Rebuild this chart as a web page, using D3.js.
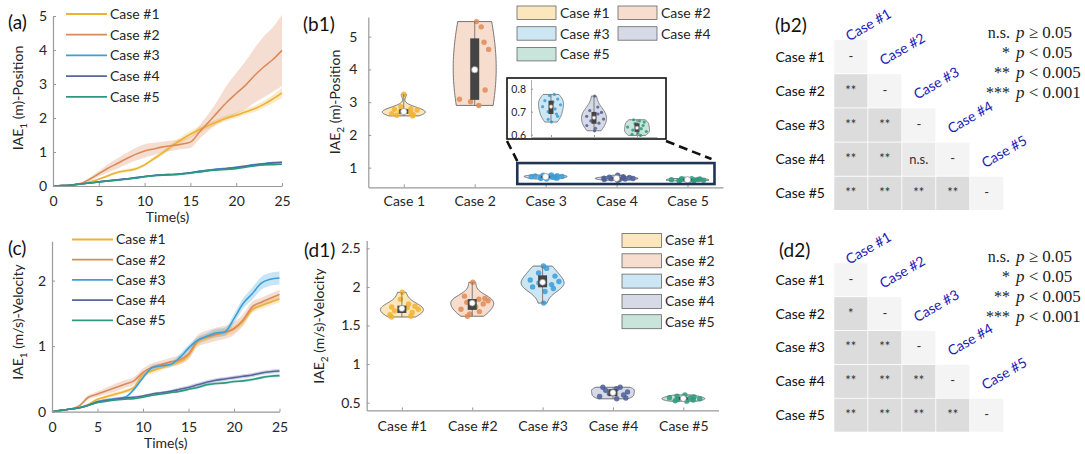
<!DOCTYPE html>
<html><head><meta charset="utf-8">
<script src="https://cdn.jsdelivr.net/npm/d3@7"></script>
<style>body{margin:0;background:#fff}svg{display:block}text{font-family:Lato,'Open Sans',sans-serif}</style>
</head><body>
<svg id="c" width="1085" height="454"></svg>
<script>
// ---------------- data ----------------
const cases = ["Case #1","Case #2","Case #3","Case #4","Case #5"];
const casesShort = ["Case 1","Case 2","Case 3","Case 4","Case 5"];
const timeS = [0,1,2,3,4,5,6,7,8,9,10,11,12,13,14,15,16,17,18,19,20,21,22,23,24,25];
const timeTicks = [0,5,10,15,20,25];

// (a) IAE1 position, mean and sd per case
const posMean1 = [0,0.01,0.02,0.05,0.12,0.2,0.3,0.4,0.45,0.5,0.62,0.8,0.98,1.18,1.36,1.52,1.66,1.78,1.9,2.0,2.08,2.18,2.27,2.4,2.56,2.74];
const posMean2 = [0,0.01,0.03,0.07,0.2,0.36,0.52,0.66,0.8,0.93,1.03,1.09,1.15,1.19,1.23,1.29,1.59,1.88,2.18,2.47,2.72,2.96,3.25,3.5,3.72,3.99];
const posMean3 = [0,0.01,0.03,0.06,0.09,0.12,0.15,0.18,0.21,0.25,0.28,0.31,0.33,0.34,0.36,0.39,0.43,0.47,0.5,0.52,0.55,0.59,0.63,0.66,0.69,0.7];
const posMean4 = [0,0.01,0.03,0.06,0.09,0.12,0.15,0.18,0.21,0.24,0.28,0.31,0.33,0.34,0.36,0.39,0.43,0.46,0.49,0.51,0.54,0.58,0.62,0.65,0.68,0.69];
const posMean5 = [0,0.01,0.03,0.06,0.09,0.12,0.15,0.17,0.2,0.23,0.27,0.3,0.32,0.33,0.35,0.38,0.41,0.45,0.47,0.49,0.51,0.55,0.59,0.62,0.63,0.64];
const posSd1 = [0,0.005,0.01,0.01,0.02,0.03,0.04,0.04,0.05,0.05,0.05,0.06,0.07,0.08,0.09,0.1,0.09,0.08,0.08,0.08,0.08,0.08,0.09,0.1,0.12,0.15];
const posSd2 = [0,0.005,0.01,0.02,0.05,0.08,0.12,0.15,0.17,0.19,0.2,0.18,0.16,0.15,0.15,0.17,0.2,0.25,0.35,0.5,0.6,0.7,0.8,0.9,0.95,1.05];
const posSd3 = [0,0.005,0.01,0.01,0.01,0.01,0.01,0.01,0.01,0.01,0.01,0.01,0.01,0.01,0.01,0.01,0.02,0.02,0.02,0.02,0.02,0.02,0.02,0.02,0.02,0.02];
const posSd4 = [0,0.005,0.01,0.01,0.01,0.01,0.01,0.01,0.01,0.01,0.01,0.01,0.01,0.01,0.01,0.01,0.02,0.02,0.02,0.02,0.02,0.02,0.02,0.02,0.02,0.02];
const posSd5 = [0,0.005,0.01,0.01,0.01,0.01,0.01,0.01,0.01,0.01,0.01,0.01,0.01,0.01,0.01,0.01,0.01,0.01,0.01,0.01,0.01,0.01,0.01,0.01,0.01,0.01];

// (c) IAE1 velocity, mean and sd per case
const velMean1 = [0,0.02,0.04,0.06,0.11,0.19,0.23,0.27,0.31,0.37,0.57,0.62,0.67,0.72,0.76,0.86,1.06,1.13,1.18,1.21,1.26,1.38,1.56,1.62,1.67,1.72];
const velMean2 = [0,0.02,0.04,0.09,0.22,0.27,0.32,0.37,0.42,0.47,0.6,0.68,0.72,0.76,0.79,0.88,1.08,1.14,1.18,1.21,1.27,1.4,1.6,1.67,1.73,1.79];
const velMean3 = [0,0.02,0.04,0.06,0.1,0.15,0.18,0.2,0.22,0.34,0.52,0.67,0.7,0.72,0.82,0.97,1.09,1.15,1.2,1.22,1.42,1.65,1.8,1.96,2.02,2.04];
const velMean4 = [0,0.02,0.04,0.06,0.1,0.15,0.17,0.19,0.21,0.22,0.24,0.27,0.29,0.31,0.34,0.37,0.41,0.45,0.48,0.5,0.52,0.54,0.56,0.59,0.61,0.62];
const velMean5 = [0,0.02,0.04,0.06,0.1,0.14,0.16,0.18,0.19,0.2,0.22,0.25,0.27,0.29,0.31,0.34,0.37,0.41,0.43,0.44,0.46,0.47,0.49,0.52,0.54,0.55];
const velSd1 = [0,0.005,0.01,0.01,0.02,0.02,0.03,0.03,0.03,0.03,0.04,0.04,0.04,0.04,0.04,0.05,0.05,0.05,0.05,0.05,0.05,0.05,0.05,0.05,0.05,0.05];
const velSd2 = [0,0.005,0.01,0.02,0.03,0.04,0.05,0.06,0.06,0.06,0.06,0.06,0.06,0.06,0.07,0.08,0.09,0.1,0.1,0.1,0.1,0.09,0.08,0.07,0.07,0.07];
const velSd3 = [0,0.005,0.01,0.01,0.02,0.02,0.02,0.02,0.02,0.03,0.03,0.04,0.04,0.04,0.05,0.05,0.05,0.05,0.06,0.06,0.07,0.08,0.09,0.1,0.1,0.1];
const velSd4 = [0,0.005,0.01,0.01,0.01,0.02,0.02,0.02,0.02,0.02,0.02,0.02,0.02,0.02,0.03,0.03,0.03,0.03,0.03,0.03,0.03,0.03,0.03,0.03,0.03,0.03];
const velSd5 = [0,0.005,0.01,0.01,0.01,0.01,0.01,0.01,0.01,0.01,0.01,0.01,0.01,0.01,0.01,0.01,0.02,0.02,0.02,0.02,0.02,0.02,0.02,0.02,0.02,0.02];

// (b1) IAE2 position samples per case, with horizontal jitter fractions
const b1Vals1 = [3.24,2.86,2.80,2.78,2.76,2.72,2.70,2.68,2.65,2.62,2.60,2.58];
const b1Vals2 = [5.46,5.30,4.83,4.61,3.37,3.09,3.01,2.90];
const b1Vals3 = [0.775,0.77,0.755,0.748,0.742,0.73,0.722,0.712,0.70,0.69,0.68,0.667,0.655];
const b1Vals4 = [0.768,0.72,0.705,0.697,0.69,0.68,0.668,0.66,0.65,0.64,0.628,0.617];
const b1Vals5 = [0.665,0.66,0.655,0.648,0.64,0.633,0.626,0.62,0.614,0.607,0.601,0.597];
const b1Jit1 = [0,-0.3,0.5,-0.6,0.8,0.2,-0.2,0.4,-0.7,0.6,-0.5,0.7];
const b1Jit2 = [0.12,0.43,0.55,0.79,0.6,-0.93,-0.26,0.26];
const b1Jit3 = [0.5,-0.2,0.7,-0.6,0.2,0.9,-0.8,0.4,-0.3,0.6,0.8,-0.4,0.1];
const b1Jit4 = [0.3,0.6,-0.5,0.8,0.4,-0.7,0.9,-0.3,0.5,-0.8,0.2,0.1];
const b1Jit5 = [-0.5,0.3,0.8,-0.2,0.6,-0.9,0.4,-0.4,0.9,0.1,-0.6,0.5];
const b1Ticks = [1,2,3,4,5];
const insetTicks = [0.6,0.7,0.8];

// (d1) IAE2 velocity samples per case
const d1Vals1 = [1.93,1.84,1.78,1.75,1.74,1.73,1.71,1.69,1.67,1.64,1.62,1.61];
const d1Vals2 = [2.06,1.88,1.85,1.84,1.82,1.80,1.78,1.74,1.71,1.68,1.65,1.62];
const d1Vals3 = [2.27,2.24,2.18,2.14,2.09,2.07,2.05,2.03,2.00,1.98,1.94,1.79];
const d1Vals4 = [0.70,0.70,0.68,0.66,0.64,0.62,0.60,0.58,0.56,0.55];
const d1Vals5 = [0.60,0.585,0.575,0.565,0.56,0.55,0.545,0.535,0.525,0.52];
const d1Jit1 = [0.1,-0.2,0.5,0.8,-0.6,0.3,0.9,-0.4,0.6,-0.8,0.7,-0.9];
const d1Jit2 = [0.2,-0.6,0.8,0.4,0.9,-0.3,0.6,0.2,-0.7,0.5,-0.2,-0.5];
const d1Jit3 = [0.1,0.4,-0.3,0.8,-0.7,0.9,-0.2,0.5,-0.6,0.7,0.2,0.3];
const d1Jit4 = [-0.7,0.5,0.2,-0.4,0.8,-0.2,0.6,-0.8,0.9,0.3];
const d1Jit5 = [0.2,-0.5,0.7,-0.8,0.4,0.9,-0.3,0.6,-0.6,0.3];
const d1Ticks = [0.5,1,1.5,2,2.5];

// (b2),(d2) significance matrices (lower triangle)
const sigB2 = [["-"],["**","-"],["**","**","-"],["**","**","n.s.","-"],["**","**","**","**","-"]];
const sigD2 = [["-"],["*","-"],["**","**","-"],["**","**","**","-"],["**","**","**","**","-"]];
const sigLegendPre = ["n.s.","*","**","***"];
const sigLegendOp = ["\u2265","<","<","<"];
const sigLegendVal = ["0.05","0.05","0.005","0.001"];

// ---------------- styles ----------------
const lineColors = ["#EDB233","#DA8A5B","#3BA0DA","#5766A0","#2C9A80"];
const fillColors = ["#FCE7BD","#F6DDCD","#CCE6F4","#D6D9E6","#C8E4DB"];
const dotColors  = ["#F2B230","#E08A55","#3A9CD8","#4C5E98","#2E9A7E"];
const AX = "#9a9a9a", TXT = "#262626";

const svg = d3.select("#c");

function styleAxis(g, fs){
  g.select(".domain").attr("stroke",AX).attr("stroke-width",1.2);
  g.selectAll(".tick line").attr("stroke",AX);
  g.selectAll(".tick text").attr("fill",TXT).style("font-size",(fs||14)+"px")
    .style("font-family","Lato,'Open Sans',sans-serif");
}
function panelLabel(txt,x,y){
  svg.append("text").attr("x",x).attr("y",y).attr("font-size",19).attr("fill","#111").text(txt);
}
function yLabel(x,y,main,sub,rest){
  const t = svg.append("text").attr("transform",`translate(${x},${y}) rotate(-90)`)
    .attr("text-anchor","middle").attr("font-size",14).attr("fill",TXT);
  t.append("tspan").text(main);
  t.append("tspan").attr("dy",4).attr("font-size",10).text(sub);
  t.append("tspan").attr("dy",-4).text(rest);
}

// ---------------- line panels ----------------
function linePanel(o){
  const x = d3.scaleLinear().domain([0,25]).range([o.x0,o.x1]);
  const y = d3.scaleLinear().domain([0,o.ymax]).range([o.yBot,o.yTop]);
  const g = svg.append("g");
  o.means.forEach((m,i)=>{
    const sd = o.sds[i];
    const area = d3.area().x((d,k)=>x(timeS[k])).y0((d,k)=>y(Math.max(0,m[k]-sd[k])))
      .y1((d,k)=>y(m[k]+sd[k])).curve(d3.curveMonotoneX);
    g.append("path").datum(m).attr("d",area).attr("fill",lineColors[i]).attr("opacity",0.28);
  });
  o.means.forEach((m,i)=>{
    const line = d3.line().x((d,k)=>x(timeS[k])).y(d=>y(d)).curve(d3.curveMonotoneX);
    g.append("path").datum(m).attr("d",line).attr("fill","none")
      .attr("stroke",lineColors[i]).attr("stroke-width",1.6);
  });
  const gx = g.append("g").attr("transform",`translate(0,${o.yBot})`)
    .call(d3.axisBottom(x).tickValues(timeTicks).tickSize(-3).tickSizeOuter(0).tickPadding(10));
  styleAxis(gx);
  const gy = g.append("g").attr("transform",`translate(${o.x0},0)`)
    .call(d3.axisLeft(y).tickValues(o.yticks).tickSize(-3).tickSizeOuter(0).tickPadding(6).tickFormat(d3.format("d")));
  styleAxis(gy);
  // legend
  cases.forEach((c,i)=>{
    const ly = o.legY + i*o.legStep;
    g.append("line").attr("x1",o.legX).attr("x2",o.legX+41).attr("y1",ly).attr("y2",ly)
      .attr("stroke",lineColors[i]).attr("stroke-width",1.8);
    g.append("text").attr("x",o.legX+44).attr("y",ly).attr("dy","0.35em")
      .attr("font-size",14).attr("fill",TXT).text(c);
  });
  g.append("text").attr("x",(o.x0+o.x1)/2).attr("y",o.yBot+31).attr("dy","0.35em")
    .attr("text-anchor","middle").attr("font-size",14).attr("fill",TXT).text("Time(s)");
}

linePanel({x0:53,x1:282,yBot:186,yTop:16,ymax:5,yticks:[0,1,2,3,4,5],
  means:[posMean1,posMean2,posMean3,posMean4,posMean5],sds:[posSd1,posSd2,posSd3,posSd4,posSd5],
  legX:66,legY:14,legStep:20.7});
linePanel({x0:52,x1:279.5,yBot:411.7,yTop:241.3,ymax:2.6,yticks:[0,1,2],
  means:[velMean1,velMean2,velMean3,velMean4,velMean5],sds:[velSd1,velSd2,velSd3,velSd4,velSd5],
  legX:72,legY:239.5,legStep:20.2});
panelLabel("(a)",8,29);
panelLabel("(c)",8,255);
yLabel(23,98,"IAE","1"," (m)-Position");
yLabel(23,322,"IAE","1"," (m/s)-Velocity");

// ---------------- violins ----------------
function kde(vals, mult){
  const n = vals.length, sd = d3.deviation(vals);
  const bw = 1.06*sd*Math.pow(n,-0.2)*(mult||1);
  const lo = d3.min(vals), hi = d3.max(vals);
  const grid = d3.range(61).map(i=>lo+(hi-lo)*i/60);
  const dens = grid.map(gv=>d3.mean(vals,v=>Math.exp(-0.5*((gv-v)/bw)**2)));
  const mx = d3.max(dens);
  return {grid, dens:dens.map(d=>d/mx), lo, hi};
}
function drawViolins(g, x, y, names, valsArr, jitArr, colIdx, o){
  names.forEach((nm,i)=>{
    const vals = valsArr[i], jit = jitArr[i], ci = colIdx[i];
    const cx = x(nm);
    const k = kde(vals, o.bwMult ? o.bwMult[i] : 1);
    const hw = o.hw;
    const pts = k.grid.map((gv,j)=>[cx+k.dens[j]*hw, y(gv)])
      .concat(k.grid.map((gv,j)=>[cx-k.dens[j]*hw, y(gv)]).reverse());
    g.append("path").attr("d",d3.line()(pts)+"Z").attr("fill",fillColors[ci])
      .attr("stroke","#555").attr("stroke-width",o.sw);
    const densAt = v=>{ const t=(v-k.lo)/(k.hi-k.lo)*60; const a=Math.floor(Math.min(59,Math.max(0,t)));
      return k.dens[a]+(k.dens[a+1]-k.dens[a])*(t-a); };
    vals.forEach((v,j)=>{
      g.append("circle").attr("cx",cx+jit[j]*densAt(v)*hw*0.85).attr("cy",y(v))
        .attr("r",o.pr).attr("fill",dotColors[ci]).attr("opacity",0.85);
    });
    const s = vals.slice().sort(d3.ascending);
    const q1=d3.quantile(s,0.25), q3=d3.quantile(s,0.75), md=d3.median(s);
    g.append("line").attr("x1",cx).attr("x2",cx).attr("y1",y(s[0])).attr("y2",y(s[s.length-1]))
      .attr("stroke","#666").attr("stroke-width",0.8);
    g.append("rect").attr("x",cx-o.bw/2).attr("width",o.bw).attr("y",y(q3))
      .attr("height",Math.max(1,y(q1)-y(q3))).attr("fill","#444");
    g.append("circle").attr("cx",cx).attr("cy",y(md)).attr("r",o.mr)
      .attr("fill","#fff").attr("stroke","#888").attr("stroke-width",0.7);
  });
}

// (b1)
{
  const g = svg.append("g");
  const x = d3.scalePoint().domain(casesShort).range([368.3,723]).padding(0.5);
  const y = d3.scaleLinear().domain([0.4,5.6]).range([187.3,17]);
  drawViolins(g,x,y,casesShort,[b1Vals1,b1Vals2,b1Vals3,b1Vals4,b1Vals5],
    [b1Jit1,b1Jit2,b1Jit3,b1Jit4,b1Jit5],[0,1,2,3,4],
    {hw:21.5,bw:9,pr:2.7,mr:3.2,sw:0.8,bwMult:[0.9,2.2,1,1,1]});
  const gx = g.append("g").attr("transform","translate(0,187.3)")
    .call(d3.axisBottom(x).tickSize(-3).tickSizeOuter(0).tickPadding(9));
  styleAxis(gx);
  const gy = g.append("g").attr("transform","translate(368.3,0)")
    .call(d3.axisLeft(y).tickValues(b1Ticks).tickSize(-3).tickSizeOuter(0).tickPadding(11).tickFormat(d3.format("d")));
  styleAxis(gy);
  // zoom box around cases 3-5
  const st = x.step();
  const bx0 = x("Case 3")-0.4*st, bx1 = x("Case 5")+0.38*st;
  const by0 = y(1.14), by1 = y(0.5);
  g.append("rect").attr("x",bx0).attr("y",by0).attr("width",bx1-bx0).attr("height",by1-by0)
    .attr("fill","none").attr("stroke","#1F3556").attr("stroke-width",2.6);
  // inset
  const ix0=507, ix1=666, iy0=78, iy1=139;
  g.append("rect").attr("x",ix0).attr("y",iy0).attr("width",ix1-ix0).attr("height",iy1-iy0)
    .attr("fill","#fff").attr("stroke","#111").attr("stroke-width",1.6);
  g.append("line").attr("x1",ix0).attr("y1",iy1+2).attr("x2",bx0).attr("y2",by0-2)
    .attr("stroke","#111").attr("stroke-width",2.6).attr("stroke-dasharray","9,5");
  g.append("line").attr("x1",ix1).attr("y1",iy1+2).attr("x2",bx1-3).attr("y2",by0-4)
    .attr("stroke","#111").attr("stroke-width",2.6).attr("stroke-dasharray","9,5");
  const xi = d3.scalePoint().domain(casesShort.slice(2)).range([531,657]).padding(0.465);
  const yi = d3.scaleLinear().domain([0.59,0.84]).range([137,79.5]);
  drawViolins(g,xi,yi,casesShort.slice(2),[b1Vals3,b1Vals4,b1Vals5],[b1Jit3,b1Jit4,b1Jit5],[2,3,4],
    {hw:12.5,bw:5,pr:1.6,mr:1.8,sw:0.7});
  const gxi = g.append("g").attr("transform","translate(0,137)")
    .call(d3.axisBottom(xi).tickSize(-2).tickSizeOuter(0).tickFormat(""));
  styleAxis(gxi);
  gxi.select(".domain").attr("stroke-width",0.8);
  const gyi = g.append("g").attr("transform","translate(531,0)")
    .call(d3.axisLeft(yi).tickValues(insetTicks).tickSize(-2).tickSizeOuter(0).tickPadding(5).tickFormat(d3.format(".1f")));
  styleAxis(gyi,10.5);
  gyi.select(".domain").attr("stroke-width",0.8);
  // legend (two columns)
  cases.forEach((c,i)=>{
    const col = i%2, row = Math.floor(i/2);
    const lx = 517 + col*101, ly = 6 + row*20.7;
    g.append("rect").attr("x",lx).attr("y",ly).attr("width",39).attr("height",13.5)
      .attr("fill",fillColors[i]).attr("stroke","#666").attr("stroke-width",0.8);
    g.append("text").attr("x",lx+43).attr("y",ly+7).attr("dy","0.35em").attr("font-size",14)
      .attr("fill",TXT).text(c);
  });
}
panelLabel("(b1)",303,31);
yLabel(340,102,"IAE","2"," (m)-Position");

// (d1)
{
  const g = svg.append("g");
  const x = d3.scalePoint().domain(cases).range([366.7,718.5]).padding(0.5);
  const y = d3.scaleLinear().domain([0.4,2.6]).range([410.4,240.6]);
  drawViolins(g,x,y,cases,[d1Vals1,d1Vals2,d1Vals3,d1Vals4,d1Vals5],
    [d1Jit1,d1Jit2,d1Jit3,d1Jit4,d1Jit5],[0,1,2,3,4],{hw:21.5,bw:9,pr:2.7,mr:3,sw:0.8});
  const gx = g.append("g").attr("transform","translate(0,410.4)")
    .call(d3.axisBottom(x).tickSize(-3).tickSizeOuter(0).tickPadding(11));
  styleAxis(gx);
  const gy = g.append("g").attr("transform","translate(366.7,0)")
    .call(d3.axisLeft(y).tickValues(d1Ticks).tickSize(-3).tickSizeOuter(0).tickPadding(6).tickFormat(d=>String(d)));
  styleAxis(gy);
  cases.forEach((c,i)=>{
    const ly = 233.5 + i*20.3;
    g.append("rect").attr("x",622).attr("y",ly).attr("width",39.5).attr("height",14)
      .attr("fill",fillColors[i]).attr("stroke","#666").attr("stroke-width",0.8);
    g.append("text").attr("x",665).attr("y",ly+7).attr("dy","0.35em").attr("font-size",14)
      .attr("fill",TXT).text(c);
  });
}
panelLabel("(d1)",304,257);
yLabel(324,326,"IAE","2"," (m/s)-Velocity");

// ---------------- significance heatmaps ----------------
function heat(mat, y0, y1){
  const g = svg.append("g");
  const xb = d3.scaleBand().domain(cases).range([834.3,1003.3]).paddingInner(0.025);
  const yb = d3.scaleBand().domain(cases).range([y0,y1]).paddingInner(0.025);
  const fill = s => s==="-" ? "#F4F4F4" : (s==="n.s." ? "#EAEAEA" : "#DCDCDC");
  mat.forEach((row,i)=>row.forEach((s,j)=>{
    g.append("rect").attr("x",xb(cases[j])).attr("y",yb(cases[i]))
      .attr("width",xb.bandwidth()).attr("height",yb.bandwidth()).attr("fill",fill(s));
    g.append("text").attr("x",xb(cases[j])+xb.bandwidth()/2).attr("y",yb(cases[i])+yb.bandwidth()/2)
      .attr("dy",s==="n.s."?"0.35em":"0.3em").attr("text-anchor","middle").attr("font-size",13)
      .attr("fill","#333").text(s);
  }));
  cases.forEach((c,i)=>{
    g.append("text").attr("x",825).attr("y",yb(c)+yb.bandwidth()/2).attr("dy","0.35em")
      .attr("text-anchor","end").attr("font-size",14).attr("fill","#111").text(c);
    const lx = xb(c)+15;
    const ly = i===0 ? yb(c)+1.5 : yb(c)-8.5;
    g.append("text").attr("transform",`translate(${lx},${ly}) rotate(-30)`)
      .attr("font-size",14).attr("fill","#1C1CB8").text(c);
  });
  return g;
}
function sigLegend(yStart){
  sigLegendPre.forEach((p,i)=>{
    const yy = yStart + i*20;
    svg.append("text").attr("x",1010).attr("y",yy).attr("text-anchor","end")
      .style("font-family","'Liberation Serif','DejaVu Serif',serif").attr("font-size",16)
      .attr("fill","#222").text(p);
    const t = svg.append("text").attr("x",1016).attr("y",yy)
      .style("font-family","'Liberation Serif','DejaVu Serif',serif").attr("font-size",17).attr("fill","#222");
    t.append("tspan").attr("font-style","italic").text("p");
    t.append("tspan").text(" "+sigLegendOp[i]+" "+sigLegendVal[i]);
  });
}
heat(sigB2,40,210);
heat(sigD2,263.3,431.7);
sigLegend(38);
sigLegend(262);
panelLabel("(b2)",775,32);
panelLabel("(d2)",779,257);
</script>
</body></html>
